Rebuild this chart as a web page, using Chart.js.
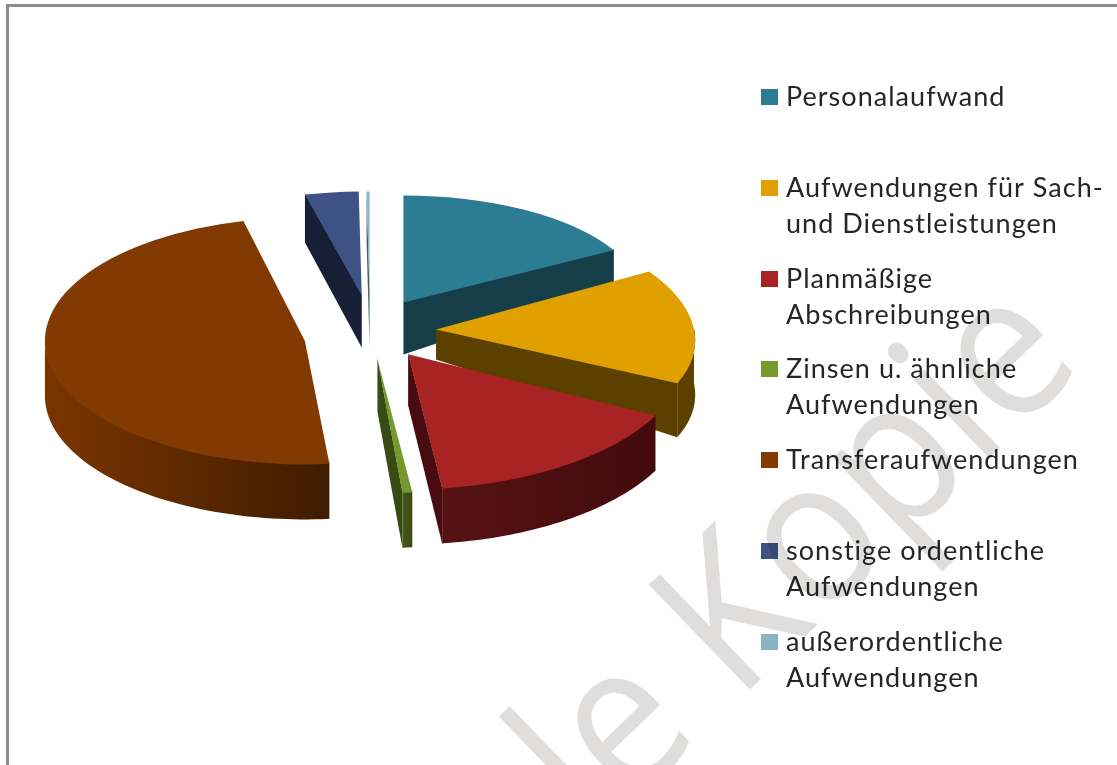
<!DOCTYPE html>
<html lang="de"><head><meta charset="utf-8">
<style>
html,body{margin:0;padding:0;background:#fff;overflow:hidden}
#wrap{position:relative;width:1117px;height:765px;overflow:hidden}
#frame{position:absolute;left:6px;top:4px;right:-10px;bottom:-10px;border:3px solid #8c8c8c}
canvas{position:absolute;left:0;top:0}
</style>
<script src="https://cdn.jsdelivr.net/npm/chart.js@4"></script>
</head><body><div id="wrap"><div id="frame"></div><canvas id="c" width="1117" height="765"></canvas></div>
<script>
const categories = [
  ['Personalaufwand'],
  ['Aufwendungen für Sach-','und Dienstleistungen'],
  ['Planmäßige','Abschreibungen'],
  ['Zinsen u. ähnliche','Aufwendungen'],
  ['Transferaufwendungen'],
  ['sonstige ordentliche','Aufwendungen'],
  ['außerordentliche','Aufwendungen']
];
const shares = [16.9, 15.6, 15.4, 0.6, 47.7, 3.6, 0.2];
const topColors = ['#2c7d94','#dfa000','#a82424','#76992d','#833a02','#3f5285','#8ab4c4'];
const faceColors = ['#163e49','#5c4000','#480b0f','#3a4a14','#3f1c00','#171f36','#46606a'];
const rimLight = ['#1d5160','#5c4000','#561313','#46591b','#7a3500','#232e50','#5a7a86'];
const rimDark  = ['#163e49','#5c4000','#420a0d','#3a4a14','#3f1c00','#171f36','#46606a'];

// layout constants (view of the tilted pie, per slice)
const SQUASH = 0.45, BASE_R = 248, EXPLODE = 66;
const sliceR      = [241,258,279,265,260,240,240];
const sliceSquash = [.444,.46,.485,.505,.475,.433,.433];
const sliceShear  = [0,.21,-.02,0,0,0,0];
const sliceShiftY = [-2,0,0,0,6,-5,-5];
const depthApex   = [52,30,51,52,55,52,52];
const depthRim    = [34,54,55,55,55,48,50];
const legendRows = [97,188,279,369,460,551,642];
const LEGEND_X = 761, LEGEND_TEXT_X = 786, LINE_H = 36.5;
const FONT = '27px Lato';

function geom(el,i){
  const h=(el.startAngle+el.endAngle)/2;
  const ax=el.x+Math.cos(h)*EXPLODE, ay=el.y+Math.sin(h)*EXPLODE*SQUASH+sliceShiftY[i];
  const r=sliceR[i], s=sliceSquash[i], c=sliceShear[i];
  return {ax,ay,r,s,c,at:a=>{const dy=Math.sin(a)*r*s;return {x:ax+Math.cos(a)*r+c*dy,y:ay+dy};}};
}
const pie3d = {
  id:'pie3d',
  beforeDatasetDraw(chart){
    const ctx=chart.ctx, els=chart.getDatasetMeta(0).data;
    els.forEach((el,i)=>{
      const g=geom(el,i), da=depthApex[i], dr=depthRim[i];
      const face=a=>{const p=g.at(a);
        ctx.fillStyle=faceColors[i];
        ctx.beginPath();ctx.moveTo(g.ax,g.ay-1);ctx.lineTo(p.x,p.y-1);
        ctx.lineTo(p.x,p.y+dr);ctx.lineTo(g.ax,g.ay+da);ctx.closePath();ctx.fill();};
      if(Math.sin(el.startAngle-Math.PI/2)>0) face(el.startAngle);
      if(Math.sin(el.endAngle+Math.PI/2)>0) face(el.endAngle);
      const T=2*Math.PI;
      for(const k of [-1,0,1]){
        const a0=Math.max(el.startAngle,k*T), a1=Math.min(el.endAngle,k*T+Math.PI);
        if(a1<=a0) continue;
        const n=60, pts=[];
        for(let j=0;j<=n;j++) pts.push(g.at(a0+(a1-a0)*j/n));
        const xs=pts.map(p=>p.x);
        const gr=ctx.createLinearGradient(Math.min(...xs),0,Math.max(...xs)+.01,0);
        gr.addColorStop(0,rimLight[i]);gr.addColorStop(1,rimDark[i]);
        ctx.fillStyle=gr;ctx.beginPath();
        pts.forEach((p,j)=>{const y=p.y-1.5;j?ctx.lineTo(p.x,y):ctx.moveTo(p.x,y);});
        pts.slice().reverse().forEach(p=>ctx.lineTo(p.x,p.y+dr));
        ctx.closePath();ctx.fill();
      }
    });
    els.forEach((el,i)=>{
      const g=geom(el,i), k=g.r/el.outerRadius;
      ctx.save();
      ctx.translate(g.ax,g.ay);
      ctx.transform(1,0,g.c,1,0,0);
      ctx.scale(k,k*g.s);ctx.translate(-el.x,-el.y);
      el.draw(ctx);
      ctx.restore();
    });
    return false;
  },
  afterDraw(chart){
    const ctx=chart.ctx;
    ctx.save();
    ctx.font=FONT;ctx.textBaseline='middle';ctx.textAlign='left';
    if('letterSpacing' in ctx) ctx.letterSpacing='1.03px';
    categories.forEach((lines,i)=>{
      ctx.fillStyle=topColors[i];
      ctx.fillRect(LEGEND_X,legendRows[i]-8,17,16);
      ctx.fillStyle='#262626';
      lines.forEach((t,j)=>ctx.fillText(t,LEGEND_TEXT_X,legendRows[i]+j*LINE_H));
    });
    ctx.restore();
    ctx.save();
    ctx.globalCompositeOperation='multiply';
    ctx.translate(737,702);ctx.rotate(-44*Math.PI/180);ctx.scale(.9,1);
    ctx.font='500 204px "Open Sans"';ctx.fillStyle='#dfdedd';
    ctx.textAlign='left';ctx.textBaseline='alphabetic';
    const w=ctx.measureText('le ').width;
    ctx.fillText('le Kopie',-w,0);
    ctx.restore();
  }
};
new Chart(document.getElementById('c'),{
  type:'pie',
  data:{labels:categories.map(l=>l.join(' ')),
    datasets:[{data:shares,backgroundColor:topColors,borderWidth:0,clip:false,hoverOffset:0}]},
  options:{responsive:false,animation:false,radius:BASE_R,
    layout:{padding:{left:0,right:377,top:0,bottom:105}},
    plugins:{legend:{display:false},tooltip:{enabled:false}},events:[]},
  plugins:[pie3d]
});
</script></body></html>
